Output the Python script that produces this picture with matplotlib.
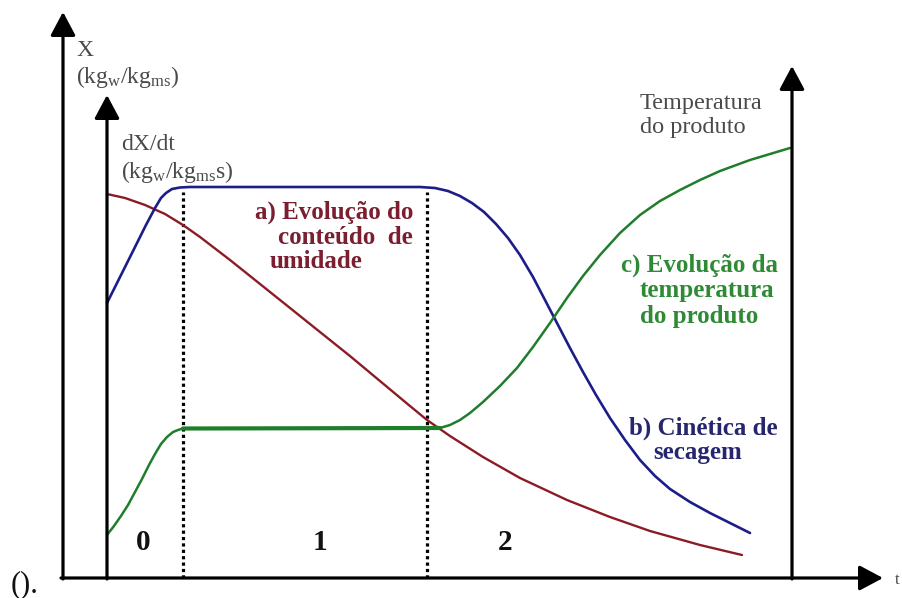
import matplotlib
matplotlib.use("Agg")
import matplotlib.pyplot as plt

plt.rcParams['font.family'] = ['Liberation Serif', 'DejaVu Serif']
plt.rcParams['mathtext.fontset'] = 'custom'
plt.rcParams['mathtext.rm'] = 'Liberation Serif'
plt.rcParams['mathtext.it'] = 'Liberation Serif:italic'
plt.rcParams['mathtext.bf'] = 'Liberation Serif:bold'

# ---- data (time in arbitrary units, right axis at t=10; values in arbitrary units) ----
moisture_t = [0, 0.263, 0.555, 0.847, 1.109, 1.358, 1.796, 2.234, 2.672, 3.109, 3.547,
              3.985, 4.423, 4.672, 5.007, 5.489, 6.029, 6.715, 7.343, 7.927, 8.657, 9.270]
moisture_v = [7.68, 7.60, 7.46, 7.28, 7.06, 6.82, 6.36, 5.88, 5.40, 4.92, 4.44,
              3.94, 3.44, 3.16, 2.84, 2.42, 2.00, 1.56, 1.22, 0.94, 0.66, 0.46]

rate_t = [0, 0.190, 0.380, 0.569, 0.701, 0.788, 0.861, 0.949, 1.066, 1.212, 4.569,
          4.788, 4.978, 5.153, 5.328, 5.504, 5.679, 5.854, 6.029, 6.219, 6.394, 6.569,
          6.759, 6.949, 7.139, 7.343, 7.562, 7.781, 8.000, 8.219, 8.511, 8.803, 9.095,
          9.387]
rate_v = [5.50, 6.02, 6.54, 7.06, 7.40, 7.60, 7.70, 7.78, 7.81, 7.82, 7.82,
          7.80, 7.74, 7.64, 7.50, 7.32, 7.08, 6.80, 6.46, 6.02, 5.56, 5.10,
          4.60, 4.12, 3.66, 3.20, 2.76, 2.36, 2.04, 1.78, 1.52, 1.30, 1.10,
          0.90]

temp_t = [0, 0.102, 0.204, 0.307, 0.409, 0.511, 0.613, 0.701, 0.788, 0.876, 0.964,
          1.036, 1.109, 4.861, 5.007, 5.153, 5.299, 5.489, 5.737, 5.985, 6.219, 6.467,
          6.715, 6.949, 7.197, 7.489, 7.781, 8.073, 8.365, 8.657, 8.949, 9.387, 9.971]
temp_v = [0.86, 1.04, 1.24, 1.46, 1.72, 1.98, 2.26, 2.48, 2.68, 2.82, 2.92,
          2.96, 2.99, 3.00, 3.06, 3.16, 3.30, 3.52, 3.84, 4.20, 4.62, 5.10,
          5.60, 6.04, 6.46, 6.90, 7.26, 7.54, 7.76, 7.96, 8.14, 8.36, 8.60]

plateau_t = [1.109, 4.861]
plateau_v = [2.99, 3.00]

phase_boundaries = [1.11, 4.67]
phase_top = 7.72
phase_labels = ['0', '1', '2']
phase_label_t = [0.53, 3.11, 5.81]
phase_label_v = 0.70

RED = '#8b1c26'
BLUE = '#1d1d8a'
GREEN = '#1f7d2c'

fig = plt.figure(figsize=(9.02, 5.98), dpi=100)
fig.patch.set_facecolor('white')
ax = fig.add_axes([0, 0, 1, 1])
px_per_t = 68.5
px_per_v = 50.0
ax.set_xlim(-107 / px_per_t, (902 - 107) / px_per_t)
ax.set_ylim(-20 / px_per_v, 578 / px_per_v)
ax.axis('off')

# phase boundaries
ax.vlines(phase_boundaries, 0, phase_top, colors='k', linestyles=(0, (1, 1)), lw=2.3, zorder=2)

# curves
style = dict(solid_capstyle='round', solid_joinstyle='round', zorder=3)
ax.plot(moisture_t, moisture_v, color=RED, lw=1.7, **style)
ax.plot(rate_t, rate_v, color=BLUE, lw=1.9, **style)
ax.plot(temp_t, temp_v, color=GREEN, lw=1.8, **style)
ax.plot(plateau_t, plateau_v, color=GREEN, lw=3.0, **style)

for lab, t in zip(phase_labels, phase_label_t):
    ax.text(t, phase_label_v, lab, ha='center', va='center', fontsize=21,
            fontweight='bold', color='#111111')

H = 598


def arrow(x0, y0, x1, y1):
    ax.annotate('', xy=(x1, H - y1), xycoords='figure pixels',
                xytext=(x0, H - y0), textcoords='figure pixels',
                arrowprops=dict(arrowstyle='-|>,head_length=0.6,head_width=0.32',
                                mutation_scale=24, lw=2.3, color='k',
                                shrinkA=0, shrinkB=0), zorder=4)


def txt(x, y, s, ha='left', **kw):
    ax.annotate(s, xy=(x, H - y), xycoords='figure pixels', ha=ha, va='center',
                annotation_clip=False, **kw)


# axes
arrow(63, 579, 63, 12)     # outer X axis
arrow(107, 579, 107, 95)   # inner dX/dt axis
arrow(792, 579, 792, 66)   # temperature axis
arrow(61, 578, 883, 578)   # time axis

GRAY = '#4a4a4a'
txt(76, 50, 'X', fontsize=17, color=GRAY)
txt(76, 77, '(kg$_\\mathrm{w}$/kg$_\\mathrm{ms}$)', fontsize=17, color=GRAY)
txt(121, 145, 'dX/dt', fontsize=17, color=GRAY)
txt(121, 172, '(kg$_\\mathrm{w}$/kg$_\\mathrm{ms}$s)', fontsize=17, color=GRAY)
txt(640, 103, 'Temperatura', fontsize=17.5, color=GRAY)
txt(640, 128, 'do produto', fontsize=17.5, color=GRAY)
txt(895, 580, 't', fontsize=12, color=GRAY)
txt(11, 585, '().', fontsize=22, color='#111111')

RTXT = '#7a1e30'
GTXT = '#2f8a36'
BTXT = '#26266e'
bk = dict(fontsize=18, fontweight='bold')
txt(413, 212, 'a) Evolução do', ha='right', color=RTXT, **bk)
txt(413, 237, 'conteúdo  de', ha='right', color=RTXT, **bk)
txt(270, 262, 'umidade', color=RTXT, **bk)

txt(778, 265, 'c) Evolução da', ha='right', color=GTXT, **bk)
txt(640, 291, 'temperatura', color=GTXT, **bk)
txt(640, 317, 'do produto', color=GTXT, **bk)

txt(778, 428, 'b) Cinética de', ha='right', color=BTXT, **bk)
txt(653, 453, 'secagem', color=BTXT, **bk)

fig.savefig('out.png', dpi=100, facecolor='white')
